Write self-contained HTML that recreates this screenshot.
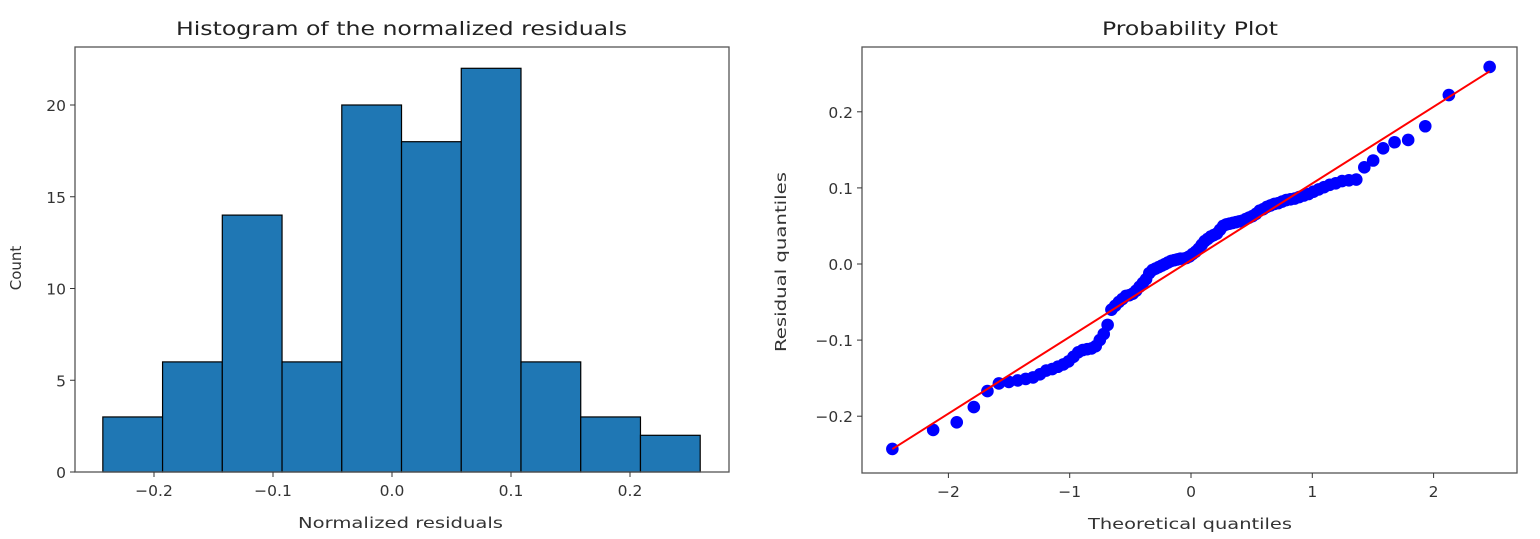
<!DOCTYPE html>
<html><head><meta charset="utf-8"><style>
html,body{margin:0;padding:0;background:#fff;}
svg{display:block;font-family:"DejaVu Sans","Liberation Sans",sans-serif;}
</style></head><body>
<svg id="chart" width="1540" height="539" viewBox="0 0 1540 539" xmlns="http://www.w3.org/2000/svg">
<g id="hist"></g>
<g id="qq"></g>
</svg>
<script>
// Histogram data
const binEdges = [-0.243,-0.1928,-0.1426,-0.0924,-0.0422,0.008,0.0582,0.1084,0.1586,0.2088,0.259];
const binCounts = [3,6,14,6,20,18,22,6,3,2];
const histXTicks = [-0.2,-0.1,0.0,0.1,0.2];
const histXTickLabels = ["\u22120.2","\u22120.1","0.0","0.1","0.2"];
const histYTicks = [0,5,10,15,20];
const histYTickLabels = ["0","5","10","15","20"];
// Probability plot data (sorted residuals)
const residuals = [-0.243,-0.218,-0.208,-0.188,-0.167,-0.157,-0.155,-0.153,-0.151,
 -0.149,-0.145,-0.140,-0.138,-0.135,-0.132,-0.128,-0.122,-0.116,-0.113,-0.112,-0.111,-0.108,-0.100,
 -0.092,-0.080,-0.060,-0.055,-0.050,-0.046,
 -0.042,-0.041,-0.039,-0.035,-0.030,-0.025,-0.020,-0.012,-0.008,-0.006,-0.004,-0.002,0.000,0.002,0.004,0.005,0.006,0.007,0.007,0.008,
 0.010,0.013,0.016,0.020,0.025,0.030,0.033,0.036,0.038,0.040,0.045,0.050,0.052,0.053,0.054,0.055,0.056,0.057,
 0.059,0.061,0.063,0.066,0.070,0.072,0.075,0.077,0.079,0.080,0.082,0.084,0.085,0.086,0.088,0.090,0.092,0.095,0.098,0.101,0.104,0.106,
 0.109,0.110,0.111,0.127,0.136,0.152,
 0.160,0.163,0.181,
 0.222,0.259];
const fitSlope = [0.1008];
const fitIntercept = [0.005];
const qqXTicks = [-2,-1,0,1,2];
const qqXTickLabels = ["\u22122","\u22121","0","1","2"];
const qqYTicks = [-0.2,-0.1,0.0,0.1,0.2];
const qqYTickLabels = ["\u22120.2","\u22120.1","0.0","0.1","0.2"];

const NS="http://www.w3.org/2000/svg";
function mk(parent,tag,attrs,text){const e=document.createElementNS(NS,tag);for(const k in attrs)e.setAttribute(k,attrs[k]);if(text!==undefined)e.textContent=text;parent.appendChild(e);return e;}

// normal ppf (Acklam)
function ppf(p){const a=[-39.6968302866538,220.946098424521,-275.928510446969,138.357751867269,-30.6647980661472,2.50662827745924],
b=[-54.4760987982241,161.585836858041,-155.698979859887,66.8013118877197,-13.2806815528857],
c=[-0.00778489400243029,-0.322396458041136,-2.40075827716184,-2.54973253934373,4.37466414146497,2.93816398269878],
d=[0.00778469570904146,0.32246712907004,2.445134137143,3.75440866190742];
const pl=0.02425;let q,r;
if(p<pl){q=Math.sqrt(-2*Math.log(p));return(((((c[0]*q+c[1])*q+c[2])*q+c[3])*q+c[4])*q+c[5])/((((d[0]*q+d[1])*q+d[2])*q+d[3])*q+1);}
if(p>1-pl){q=Math.sqrt(-2*Math.log(1-p));return-(((((c[0]*q+c[1])*q+c[2])*q+c[3])*q+c[4])*q+c[5])/((((d[0]*q+d[1])*q+d[2])*q+d[3])*q+1);}
q=p-0.5;r=q*q;return(((((a[0]*r+a[1])*r+a[2])*r+a[3])*r+a[4])*r+a[5])*q/(((((b[0]*r+b[1])*r+b[2])*r+b[3])*r+b[4])*r+1);}

const TICK=15.5;
// ---- Histogram ----
const H=document.getElementById('hist');
const hL=75,hR=729,hT=47,hB=472;
const hx=v=>392+(v-0.0)*1190;
const hy=v=>472-v*18.35;
binCounts.forEach((c,i)=>{
  const x0=hx(binEdges[i]),x1=hx(binEdges[i+1]);
  const r=mk(H,'rect',{x:x0,y:hy(c),width:x1-x0,height:hy(0)-hy(c),fill:'#1f77b4',stroke:'#000','stroke-width':1.2});
  
  
});
const hf=mk(H,'rect',{x:hL,y:hT,width:hR-hL,height:hB-hT,fill:'none',stroke:'#555','stroke-width':1.3});

histXTicks.forEach((t,i)=>{
  const x=hx(t);
  mk(H,'line',{x1:x,x2:x,y1:hB,y2:hB+5,stroke:'#333','stroke-width':1});
  const tx=mk(H,'text',{x:x,y:hB+24,'text-anchor':'middle','font-size':TICK,fill:'#333'},histXTickLabels[i]);
  
});
histYTicks.forEach((t,i)=>{
  const y=hy(t);
  mk(H,'line',{x1:hL-5,x2:hL,y1:y,y2:y,stroke:'#333','stroke-width':1});
  const tx=mk(H,'text',{x:hL-9,y:y+6,'text-anchor':'end','font-size':TICK,fill:'#333'},histYTickLabels[i]);
  
});
let e=mk(H,'text',{x:176,y:35,'font-size':19,fill:'#222',textLength:451,lengthAdjust:'spacingAndGlyphs'},'Histogram of the normalized residuals');

e=mk(H,'text',{x:298,y:528,'font-size':15,fill:'#333',textLength:205,lengthAdjust:'spacingAndGlyphs'},'Normalized residuals');

e=mk(H,'text',{x:0,y:0,'text-anchor':'middle','font-size':15,fill:'#333',transform:'translate(21,268) rotate(-90)'},'Count');


// ---- Probability plot ----
const Q=document.getElementById('qq');
const qL=862,qR=1517,qT=47,qB=473;
const qx=v=>1191+v*121.3;
const qy=v=>264-v*761;
const n=residuals.length;
const osm=residuals.map((_,i)=>{let m;if(i===n-1)m=Math.pow(0.5,1/n);else if(i===0)m=1-Math.pow(0.5,1/n);else m=(i+1-0.3175)/(n+0.365);return ppf(m);});
residuals.forEach((r,i)=>{
  const c=mk(Q,'circle',{cx:qx(osm[i]),cy:qy(r),r:6.3,fill:'#0000ff'});
  
  
});
const xa=osm[0],xb=osm[n-1];
const ln=mk(Q,'line',{x1:qx(xa),y1:qy(fitIntercept[0]+fitSlope[0]*xa),x2:qx(xb),y2:qy(fitIntercept[0]+fitSlope[0]*xb),stroke:'#ff0000','stroke-width':2});

const qf=mk(Q,'rect',{x:qL,y:qT,width:qR-qL,height:qB-qT,fill:'none',stroke:'#555','stroke-width':1.3});

qqXTicks.forEach((t,i)=>{
  const x=qx(t);
  mk(Q,'line',{x1:x,x2:x,y1:qB,y2:qB+5,stroke:'#333','stroke-width':1});
  const tx=mk(Q,'text',{x:x,y:qB+24,'text-anchor':'middle','font-size':TICK,fill:'#333'},qqXTickLabels[i]);
  
});
qqYTicks.forEach((t,i)=>{
  const y=qy(t);
  mk(Q,'line',{x1:qL-5,x2:qL,y1:y,y2:y,stroke:'#333','stroke-width':1});
  const tx=mk(Q,'text',{x:qL-9,y:y+6,'text-anchor':'end','font-size':TICK,fill:'#333'},qqYTickLabels[i]);
  
});
e=mk(Q,'text',{x:1102,y:35,'font-size':19,fill:'#222',textLength:176,lengthAdjust:'spacingAndGlyphs'},'Probability Plot');

e=mk(Q,'text',{x:1088,y:529,'font-size':15,fill:'#333',textLength:204,lengthAdjust:'spacingAndGlyphs'},'Theoretical quantiles');

e=mk(Q,'text',{x:0,y:0,'text-anchor':'middle','font-size':15,fill:'#333',textLength:180,lengthAdjust:'spacingAndGlyphs',transform:'translate(786,262) rotate(-90)'},'Residual quantiles');

</script>
</body></html>
